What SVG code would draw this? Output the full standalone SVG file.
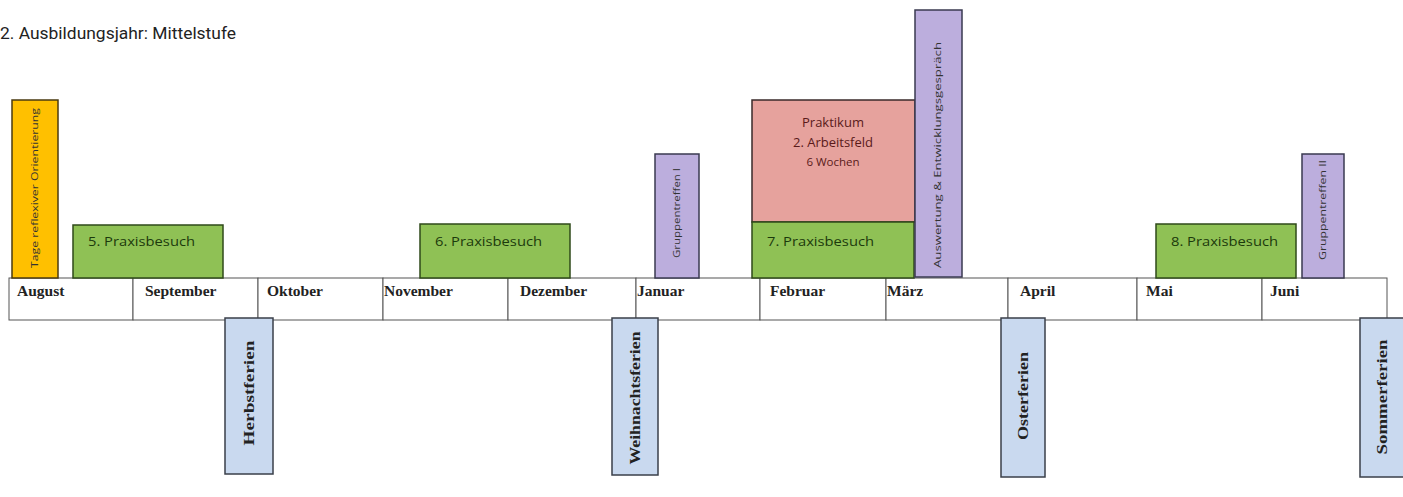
<svg xmlns="http://www.w3.org/2000/svg" width="1403" height="497" viewBox="0 0 1403 497">
<style>
.title{font-family:Roboto,"Liberation Sans",sans-serif;font-size:16.5px;fill:#222}
.month{font-family:"Liberation Serif",serif;font-weight:bold;font-size:15.5px;fill:#222}
.cell{fill:#fff;stroke:#555;stroke-width:1}
.green{fill:#8fc155;stroke:#2f4a1a;stroke-width:1.5}
.gtxt{font-family:"Open Sans","Liberation Sans",sans-serif;font-size:12.5px;fill:#1c3a0c}
.orange{fill:#ffc000;stroke:#4a3a10;stroke-width:1.5}
.purple{fill:#bcaedd;stroke:#3a3a50;stroke-width:1.5}
.pink{fill:#e6a29d;stroke:#3a2a2a;stroke-width:1.5}
.ptxt{font-family:"Open Sans","Liberation Sans",sans-serif;font-size:13px;fill:#5a1a1a;text-anchor:middle}
.blue{fill:#c9d9ef;stroke:#3a3f4a;stroke-width:1.5}
.vtxt{font-family:"Open Sans","Liberation Sans",sans-serif;font-size:9px;fill:#333;text-anchor:middle}
.btxt{font-family:"Liberation Serif",serif;font-weight:bold;font-size:15px;fill:#222;text-anchor:middle}
</style>
<rect width="1403" height="497" fill="#fff"/>
<text class="title" x="0" y="39" textLength="236" lengthAdjust="spacingAndGlyphs">2. Ausbildungsjahr: Mittelstufe</text>
<g id="timeline">
<rect class="cell" x="9" y="278" width="124" height="42"/>
<rect class="cell" x="133" y="278" width="125" height="42"/>
<rect class="cell" x="258" y="278" width="125" height="42"/>
<rect class="cell" x="383" y="278" width="125" height="42"/>
<rect class="cell" x="508" y="278" width="128" height="42"/>
<rect class="cell" x="636" y="278" width="124" height="42"/>
<rect class="cell" x="760" y="278" width="126" height="42"/>
<rect class="cell" x="886" y="278" width="122" height="42"/>
<rect class="cell" x="1008" y="278" width="129" height="42"/>
<rect class="cell" x="1137" y="278" width="125" height="42"/>
<rect class="cell" x="1262" y="278" width="125" height="42"/>
<text class="month" x="17" y="296">August</text>
<text class="month" x="145" y="296">September</text>
<text class="month" x="267" y="296">Oktober</text>
<text class="month" x="384" y="296">November</text>
<text class="month" x="520" y="296">Dezember</text>
<text class="month" x="637" y="296">Januar</text>
<text class="month" x="770" y="296">Februar</text>
<text class="month" x="887" y="296">März</text>
<text class="month" x="1020" y="296">April</text>
<text class="month" x="1146" y="296">Mai</text>
<text class="month" x="1270" y="296">Juni</text>
</g>
<g id="orientierung">
<rect class="orange" x="12" y="100" width="46" height="178"/>
<text class="vtxt" transform="translate(38,188) rotate(-90)" textLength="160" lengthAdjust="spacingAndGlyphs">Tage reflexiver Orientierung</text>
</g>
<g id="praxis5">
<rect class="green" x="73" y="225" width="150" height="53"/>
<text class="gtxt" x="88" y="246" textLength="107" lengthAdjust="spacingAndGlyphs">5. Praxisbesuch</text>
</g>
<g id="praxis6">
<rect class="green" x="420" y="224" width="150" height="54"/>
<text class="gtxt" x="435" y="246" textLength="107" lengthAdjust="spacingAndGlyphs">6. Praxisbesuch</text>
</g>
<g id="gruppe1">
<rect class="purple" x="655" y="154" width="44" height="124"/>
<text class="vtxt" transform="translate(680,213) rotate(-90)" textLength="90" lengthAdjust="spacingAndGlyphs">Gruppentreffen I</text>
</g>
<g id="praktikum">
<rect class="pink" x="752" y="100" width="163" height="122"/>
<text class="ptxt" x="833" y="127">Praktikum</text>
<text class="ptxt" x="833" y="147">2. Arbeitsfeld</text>
<text class="ptxt" x="833" y="166" style="font-size:11.5px">6 Wochen</text>
</g>
<g id="praxis7">
<rect class="green" x="752" y="222" width="162" height="56"/>
<text class="gtxt" x="767" y="246" textLength="107" lengthAdjust="spacingAndGlyphs">7. Praxisbesuch</text>
</g>
<g id="auswertung">
<rect class="purple" x="915" y="10" width="47" height="267"/>
<text class="vtxt" transform="translate(941,155) rotate(-90)" textLength="226" lengthAdjust="spacingAndGlyphs">Auswertung &amp; Entwicklungsgespräch</text>
</g>
<g id="praxis8">
<rect class="green" x="1156" y="224" width="140" height="54"/>
<text class="gtxt" x="1171" y="246" textLength="107" lengthAdjust="spacingAndGlyphs">8. Praxisbesuch</text>
</g>
<g id="gruppe2">
<rect class="purple" x="1302" y="154" width="42" height="124"/>
<text class="vtxt" transform="translate(1326,210) rotate(-90)" textLength="100" lengthAdjust="spacingAndGlyphs">Gruppentreffen II</text>
</g>
<g id="herbstferien">
<rect class="blue" x="225" y="318" width="48" height="156"/>
<text class="btxt" transform="translate(254,393) rotate(-90)" textLength="105" lengthAdjust="spacingAndGlyphs">Herbstferien</text>
</g>
<g id="weihnachtsferien">
<rect class="blue" x="612" y="318" width="46" height="157"/>
<text class="btxt" transform="translate(640,398) rotate(-90)" textLength="133" lengthAdjust="spacingAndGlyphs">Weihnachtsferien</text>
</g>
<g id="osterferien">
<rect class="blue" x="1001" y="318" width="44" height="159"/>
<text class="btxt" transform="translate(1028,396) rotate(-90)" textLength="88" lengthAdjust="spacingAndGlyphs">Osterferien</text>
</g>
<g id="sommerferien">
<rect class="blue" x="1360" y="318" width="50" height="159"/>
<text class="btxt" transform="translate(1387,397) rotate(-90)" textLength="115" lengthAdjust="spacingAndGlyphs">Sommerferien</text>
</g>
<g id="connectors"></g>
</svg>
